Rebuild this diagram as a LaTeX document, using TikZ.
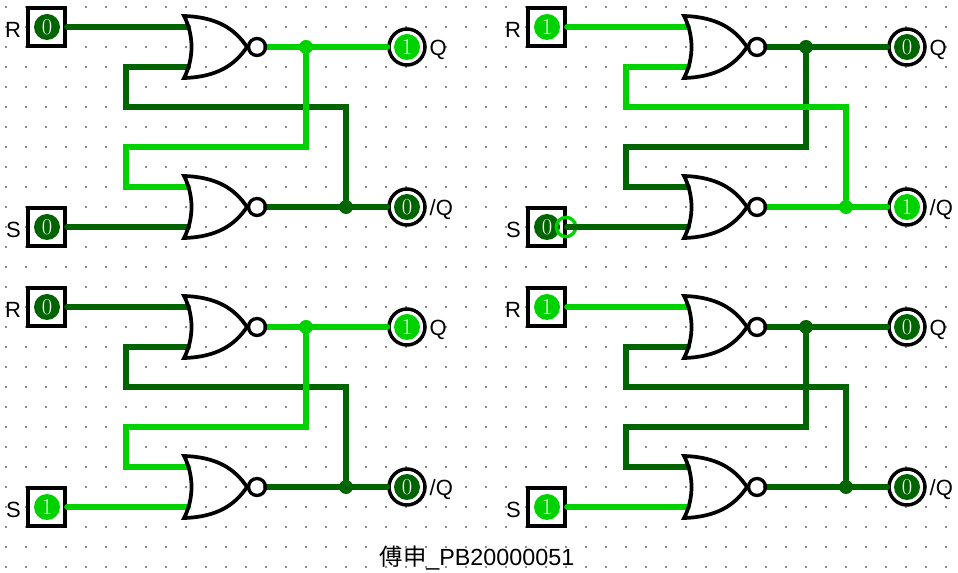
\documentclass[tikz,border=0pt]{standalone}
\usepackage{fontspec}
\usetikzlibrary{positioning}
\newfontfamily\labelfont{Liberation Sans}
\newfontfamily\cjkfont{Noto Sans CJK SC}
\definecolor{wire0}{RGB}{0,100,0}
\definecolor{wire1}{RGB}{0,210,0}
\tikzset{
    wire/.style={line width=4.5pt, line cap=round, line join=miter},
    joint/.style={circle, inner sep=0pt, minimum size=10.5pt},
    pinbox/.style={rectangle, draw=black, line width=3pt, minimum size=28pt, inner sep=0pt},
    pinval/.style={circle, inner sep=0pt, minimum size=19.5pt, text=white, font=\fontsize{17}{17}\selectfont},
    ledring/.style={circle, draw=black, line width=2.6pt, minimum size=27pt, inner sep=0pt},
    pinlabel/.style={font=\labelfont\fontsize{16.5}{16.5}\selectfont, inner sep=0pt},
    probe/.style={circle, draw=wire1, line width=2.5pt, minimum size=14.5pt, inner sep=0pt},
    norgate/.pic={
        \draw[black, line width=2.8pt, line join=miter]
            (-63,-31) .. controls (-53,-12) and (-53,12) .. (-63,31)
            .. controls (-30,30) and (-12,18) .. (0,0)
            .. controls (-12,-18) and (-30,-30) .. (-63,-31) -- cycle;
        \draw[black, line width=2.5pt] (10,0) circle (8.5);
    }
}
\begin{document}
\begin{tikzpicture}[x=0.75pt, y=-0.75pt]
    \useasboundingbox (0,0) rectangle (958,573);
    % Grid dots
    \foreach \gx in {0,...,47} {
        \foreach \gy in {0,...,28} {
            \fill[black!45] (5+20*\gx,6+20*\gy) rectangle (7+20*\gx,8+20*\gy);
        }
    }
    % One latch per state
    \foreach \p/\ox/\oy/\rv/\sv/\qv/\nv in {a/0/0/0/0/1/0, b/500/0/1/0/0/1, c/0/280/0/1/1/0, d/500/280/1/1/0/0} {
        \begin{scope}[shift={(\ox,\oy)}]
            % Inputs
            \node[pinbox] (\p R) at (46.5,27) {};
            \node[pinval, fill=wire\rv] (\p Rval) at (47,27) {\rv};
            \node[pinlabel, left=3.5pt of \p R, yshift=-2.2pt] (\p Rname) {R};
            \node[pinbox] (\p S) at (46.5,227) {};
            \node[pinval, fill=wire\sv] (\p Sval) at (47,227) {\sv};
            \node[pinlabel, left=3.5pt of \p S, yshift=-2.2pt] (\p Sname) {S};

            % Outputs
            \node[ledring] (\p Q) at (407,47) {};
            \node[pinval, fill=wire\qv] (\p Qval) at (407,47) {\qv};
            \node[pinlabel, right=2pt of \p Q, yshift=-2.2pt] (\p Qname) {Q};
            \node[ledring] (\p N) at (407,207) {};
            \node[pinval, fill=wire\nv] (\p Nval) at (407,207) {\nv};
            \node[pinlabel, right=2pt of \p N, yshift=-2.2pt] (\p Nname) {/Q};

            % Joints on the output nets
            \node[joint, fill=wire\qv] (\p Qjoin) at (306,47) {};
            \node[joint, fill=wire\nv] (\p Njoin) at (346,207) {};

            % Gate pins, the gates are drawn over the wires
            \coordinate (\p topa) at (188,27);
            \coordinate (\p topb) at (188,67);
            \coordinate (\p topo) at (266,47);
            \coordinate (\p bota) at (188,187);
            \coordinate (\p botb) at (188,227);
            \coordinate (\p boto) at (266,207);

            % Input wires
            \draw[wire, wire\rv] (\p R.east) -- (\p topa);
            \draw[wire, wire\sv] (\p S.east) -- (\p botb);

            % Feedback nets, the live one on top
            \foreach \lvl in {0,1} {
                \ifnum\nv=\lvl
                    \draw[wire, wire\nv] (\p boto) -- (\p N.west);
                    \draw[wire, wire\nv] (\p Njoin) -- (346,107) -- (126,107) -- (126,67) -- (\p topb);
                \fi
                \ifnum\qv=\lvl
                    \draw[wire, wire\qv] (\p topo) -- (\p Q.west);
                    \draw[wire, wire\qv] (\p Qjoin) -- (306,147) -- (126,147) -- (126,187) -- (\p bota);
                \fi
            }

            % Gates
            \pic (\p top) at (247,47) {norgate};
            \pic (\p bot) at (247,207) {norgate};
        \end{scope}
    }
    % Ring on the second S pin
    \node[probe] (bring) at (566,227) {};
    \draw[wire, wire0] (bS.east) -- (bring.east);

    \node[font=\labelfont\fontsize{17.5}{17.5}\selectfont, inner sep=0pt] (caption) at (477,558) {{\cjkfont 傅申}\_PB20000051};
\end{tikzpicture}
\end{document}
